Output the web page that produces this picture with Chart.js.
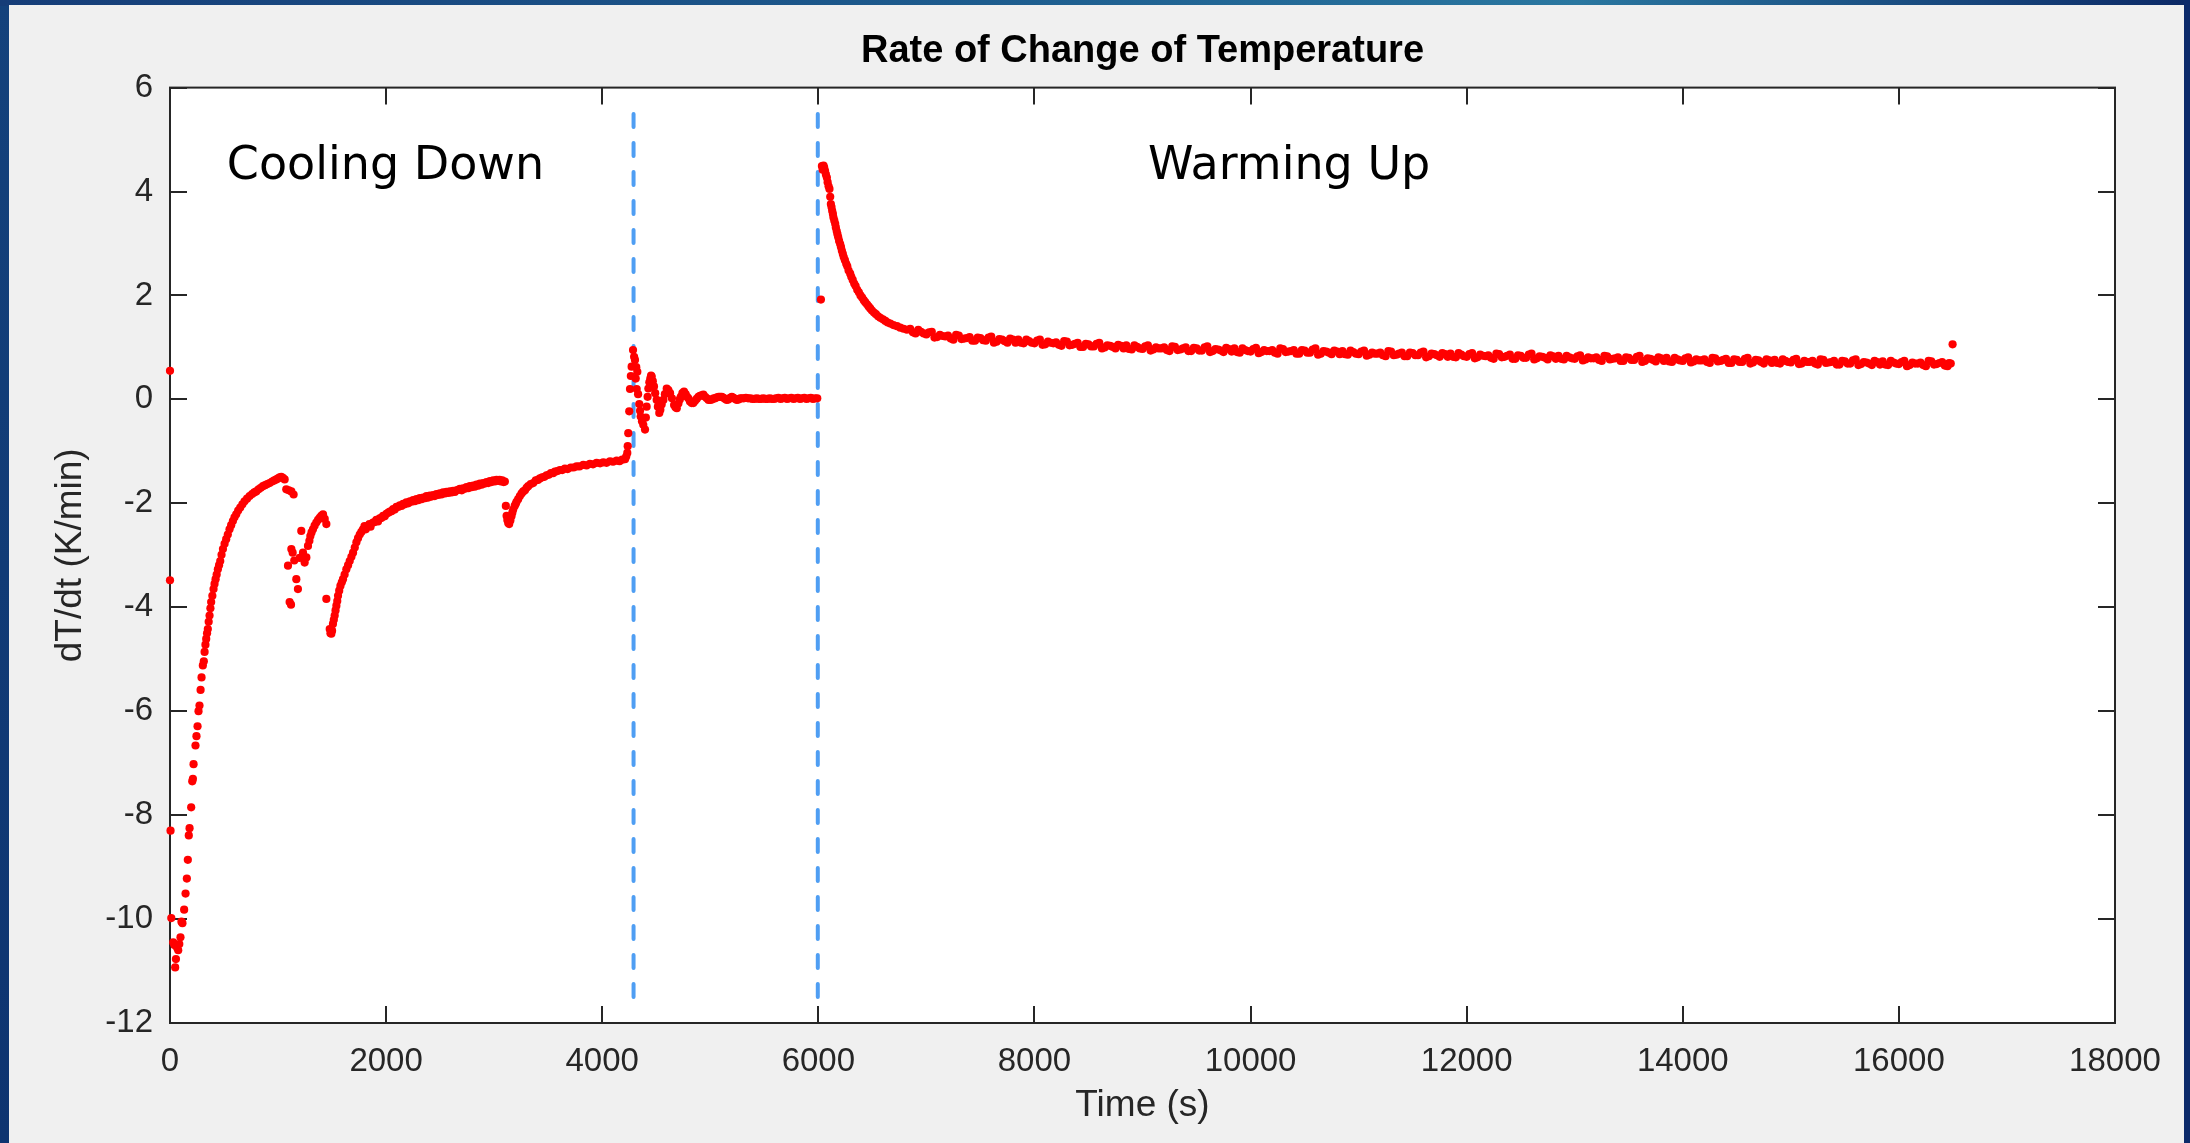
<!DOCTYPE html>
<html>
<head>
<meta charset="utf-8">
<title>Rate of Change of Temperature</title>
<script src="https://cdn.jsdelivr.net/npm/chart.js@4.4.1/dist/chart.umd.min.js"></script>
<style>
  html, body { margin: 0; padding: 0; overflow: hidden; background: #113a74; }
  #chart { display: block; }
</style>
</head>
<body>
<canvas id="chart" width="2190" height="1143"></canvas>
<script>
// first fall and recovery, 0 - 1150 s
const coolStartTime = [0, 0, 5, 12, 30, 40, 48, 55, 66, 76, 86, 97, 106, 115, 131, 144, 156, 165, 174, 181,
  196, 206, 212, 218, 236, 245, 255, 264, 273, 283, 292, 304, 313, 320, 328, 335, 343, 350, 358, 366,
  374, 381, 392, 403, 412, 422, 432, 443, 454, 465, 477, 490, 505, 520, 535, 551, 566, 582, 597, 613,
  631, 650, 670, 690, 713, 737, 760, 780, 798, 820, 840, 860, 880, 900, 922, 945, 965, 984, 1000, 1015,
  1030, 1045, 1061, 1076, 1100, 1123, 1144];
const coolStartRate = [0.55, -3.48, -8.30, -9.98, -10.45, -10.50, -10.93, -10.77, -10.55, -10.60, -10.48, -10.35, -10.05, -10.08, -9.82, -9.51, -9.22, -8.86, -8.39, -8.25,
  -7.85, -7.35, -7.30, -7.02, -6.66, -6.48, -6.29, -6.00, -5.89, -5.59, -5.35, -5.12, -5.04, -4.86, -4.72, -4.61, -4.50, -4.42, -4.28, -4.16,
  -4.02, -3.90, -3.78, -3.65, -3.55, -3.46, -3.37, -3.27, -3.19, -3.11, -2.99, -2.88, -2.78, -2.69, -2.60, -2.50, -2.42, -2.34, -2.27, -2.21,
  -2.14, -2.08, -2.02, -1.96, -1.91, -1.86, -1.82, -1.79, -1.77, -1.73, -1.70, -1.67, -1.65, -1.63, -1.61, -1.58, -1.56, -1.54, -1.52, -1.50,
  -1.49, -1.51, -1.54, -1.73, -1.75, -1.77, -1.83];

// scattered dip, 1090 - 1450 s
const dipTime = [1092, 1107, 1120, 1123, 1135, 1150, 1169, 1184, 1200, 1215, 1231, 1246, 1262, 1277, 1290, 1299, 1310, 1323, 1338, 1354,
  1370, 1385, 1400, 1416, 1432, 1447];
const dipRate = [-3.20, -3.90, -3.95, -2.88, -2.95, -3.10, -3.46, -3.65, -3.05, -2.53, -2.95, -3.14, -3.04, -2.82, -2.72, -2.63, -2.56, -2.50, -2.43, -2.37,
  -2.32, -2.28, -2.24, -2.21, -2.30, -2.40];

// second fall and recovery, 1450 - 3100 s
const secondTime = [1447, 1478, 1485, 1493, 1500, 1508, 1516, 1524, 1532, 1540, 1548, 1555, 1566, 1577, 1590, 1601, 1616, 1632, 1648, 1663,
  1679, 1694, 1710, 1725, 1740, 1756, 1771, 1786, 1800, 1812, 1833, 1845, 1856, 1879, 1895, 1910, 1925, 1941, 1956, 1972,
  1987, 2003, 2020, 2035, 2050, 2065, 2080, 2096, 2112, 2127, 2142, 2158, 2173, 2188, 2205, 2220, 2235, 2250, 2265, 2281,
  2297, 2312, 2328, 2343, 2360, 2374, 2390, 2405, 2420, 2436, 2450, 2466, 2482, 2497, 2512, 2528, 2545, 2559, 2575, 2590,
  2605, 2620, 2636, 2652, 2668, 2683, 2700, 2713, 2728, 2744, 2760, 2775, 2790, 2806, 2820, 2837, 2852, 2868, 2883, 2898,
  2914, 2929, 2945, 2960, 2975, 2991, 3006, 3022, 3036, 3050, 3063, 3075, 3088, 3099];
const secondRate = [-3.84, -4.42, -4.50, -4.51, -4.45, -4.32, -4.24, -4.16, -4.06, -3.97, -3.88, -3.78, -3.68, -3.59, -3.52, -3.46, -3.37, -3.27, -3.19, -3.11,
  -3.03, -2.95, -2.85, -2.75, -2.67, -2.60, -2.55, -2.50, -2.44, -2.50, -2.44, -2.40, -2.45, -2.37, -2.36, -2.32, -2.35, -2.29, -2.28, -2.24,
  -2.25, -2.20, -2.18, -2.16, -2.15, -2.11, -2.12, -2.07, -2.07, -2.04, -2.05, -2.01, -2.02, -1.98, -2.00, -1.96, -1.97, -1.94, -1.96, -1.92,
  -1.94, -1.90, -1.92, -1.89, -1.90, -1.86, -1.89, -1.85, -1.87, -1.84, -1.86, -1.82, -1.84, -1.81, -1.83, -1.79, -1.81, -1.78, -1.80, -1.77,
  -1.79, -1.76, -1.78, -1.75, -1.74, -1.72, -1.75, -1.71, -1.72, -1.69, -1.71, -1.67, -1.69, -1.66, -1.68, -1.64, -1.66, -1.62, -1.64, -1.61,
  -1.62, -1.59, -1.61, -1.57, -1.59, -1.56, -1.58, -1.55, -1.57, -1.55, -1.58, -1.56, -1.59, -1.58];

// third fall and slow approach, 3100 - 4290 s
const thirdTime = [3108, 3115, 3122, 3130, 3139, 3150, 3160, 3168, 3176, 3190, 3200, 3207, 3222, 3238, 3254, 3269, 3285, 3300, 3315, 3338,
  3361, 3385, 3405, 3423, 3445, 3465, 3485, 3505, 3525, 3545, 3562, 3585, 3608, 3630, 3655, 3680, 3709, 3735, 3763, 3790,
  3825, 3855, 3886, 3915, 3948, 3980, 4010, 4040, 4072, 4100, 4134, 4160, 4185, 4211, 4222, 4232, 4236, 4241, 4250, 4257,
  4265, 4272, 4285];
const thirdRate = [-2.05, -2.24, -2.32, -2.38, -2.40, -2.33, -2.25, -2.18, -2.12, -2.05, -2.01, -1.97, -1.92, -1.86, -1.81, -1.77, -1.75, -1.70, -1.67, -1.63,
  -1.61, -1.56, -1.55, -1.52, -1.50, -1.49, -1.46, -1.45, -1.42, -1.42, -1.39, -1.38, -1.36, -1.36, -1.33, -1.34, -1.31, -1.31, -1.29, -1.29,
  -1.26, -1.27, -1.24, -1.25, -1.22, -1.23, -1.21, -1.22, -1.19, -1.20, -1.18, -1.19, -1.16, -1.15, -1.10, -1.03, -0.90, -0.65, -0.23, 0.20,
  0.45, 0.63, 0.95];

// ringing and hold near zero, 4290 - 6000 s
const settleTime = [4295, 4303, 4310, 4315, 4319, 4325, 4332, 4343, 4350, 4356, 4368, 4380, 4396, 4404, 4411, 4420, 4427, 4436, 4445, 4452,
  4458, 4468, 4479, 4490, 4504, 4515, 4528, 4538, 4550, 4566, 4580, 4597, 4612, 4628, 4645, 4665, 4678, 4690, 4705, 4718,
  4727, 4742, 4757, 4772, 4785, 4797, 4812, 4828, 4843, 4858, 4874, 4890, 4905, 4920, 4936, 4952, 4968, 4984, 5000, 5016,
  5032, 5046, 5062, 5078, 5092, 5107, 5122, 5138, 5153, 5168, 5184, 5200, 5215, 5230, 5246, 5262, 5277, 5292, 5310, 5330,
  5350, 5370, 5390, 5410, 5430, 5450, 5470, 5490, 5510, 5530, 5550, 5570, 5590, 5610, 5630, 5650, 5670, 5690, 5710, 5730,
  5750, 5770, 5790, 5810, 5830, 5850, 5870, 5890, 5910, 5930, 5950, 5970, 5990];
const settleRate = [0.82, 0.76, 0.40, 0.62, 0.20, 0.53, 0.10, -0.09, -0.22, -0.33, -0.42, -0.49, -0.58, -0.35, -0.14, 0.05, 0.21, 0.33, 0.40, 0.46,
  0.44, 0.35, 0.25, 0.12, -0.01, -0.14, -0.26, -0.20, -0.10, -0.01, 0.10, 0.21, 0.18, 0.12, 0.02, -0.11, -0.15, -0.17, -0.08, 0.00,
  0.05, 0.12, 0.15, 0.10, 0.05, 0.02, -0.04, -0.07, -0.07, -0.03, 0.01, 0.05, 0.07, 0.08, 0.09, 0.05, 0.02, -0.01, -0.01, 0.00,
  0.02, 0.02, 0.04, 0.05, 0.05, 0.05, 0.03, 0.01, -0.01, 0.00, 0.03, 0.05, 0.03, 0.01, -0.01, 0.00, 0.02, 0.02, 0.02, 0.03,
  0.02, 0.02, 0.01, 0.01, 0.02, 0.01, 0.01, 0.02, 0.01, 0.01, 0.02, 0.01, 0.01, 0.02, 0.03, 0.01, 0.02, 0.03, 0.01, 0.02,
  0.03, 0.01, 0.02, 0.03, 0.01, 0.02, 0.03, 0.01, 0.02, 0.03, 0.01, 0.02, 0.02];

// warming, 6000 - 16500 s
const warmTime = [6024, 6033, 6040, 6048, 6054, 6062, 6070, 6079, 6086, 6095, 6103, 6110, 6116, 6122, 6128, 6135, 6140, 6148, 6156, 6162,
  6170, 6177, 6184, 6192, 6202, 6210, 6218, 6227, 6235, 6246, 6258, 6268, 6280, 6295, 6305, 6318, 6332, 6345, 6360, 6375,
  6390, 6405, 6420, 6434, 6450, 6465, 6480, 6496, 6515, 6533, 6553, 6573, 6598, 6620, 6642, 6666, 6695, 6728, 6758, 6789,
  6820, 6850, 6900, 6950, 7000, 7050, 7100, 7150, 7200, 7250, 7300, 7350, 7400, 7450, 7500, 7550, 7600, 7650, 7700, 7750,
  7800, 7850, 7900, 7950, 8000, 8050, 8100, 8150, 8200, 8250, 8300, 8350, 8400, 8450, 8500, 8550, 8600, 8650, 8700, 8750,
  8800, 8850, 8900, 8950, 9000, 9050, 9100, 9150, 9200, 9250, 9300, 9350, 9400, 9450, 9500, 9550, 9600, 9650, 9700, 9750,
  9800, 9850, 9900, 9950, 10000, 10050, 10100, 10150, 10200, 10250, 10300, 10350, 10400, 10450, 10500, 10550, 10600, 10650, 10700, 10750,
  10800, 10850, 10900, 10950, 11000, 11050, 11100, 11150, 11200, 11250, 11300, 11350, 11400, 11450, 11500, 11550, 11600, 11650, 11700, 11750,
  11800, 11850, 11900, 11950, 12000, 12050, 12100, 12150, 12200, 12250, 12300, 12350, 12400, 12450, 12500, 12550, 12600, 12650, 12700, 12750,
  12800, 12850, 12900, 12950, 13000, 13050, 13100, 13150, 13200, 13250, 13300, 13350, 13400, 13450, 13500, 13550, 13600, 13650, 13700, 13750,
  13800, 13850, 13900, 13950, 14000, 14050, 14100, 14150, 14200, 14250, 14300, 14350, 14400, 14450, 14500, 14550, 14600, 14650, 14700, 14750,
  14800, 14850, 14900, 14950, 15000, 15050, 15100, 15150, 15200, 15250, 15300, 15350, 15400, 15450, 15500, 15550, 15600, 15650, 15700, 15750,
  15800, 15850, 15900, 15950, 16000, 16050, 16100, 16150, 16200, 16250, 16300, 16350, 16400, 16450, 16480, 16497];
const warmRate = [1.92, 4.49, 4.42, 4.50, 4.46, 4.40, 4.33, 4.27, 4.18, 4.10, 4.05, 3.90, 3.76, 3.70, 3.63, 3.57, 3.50, 3.44, 3.38, 3.31,
  3.24, 3.18, 3.12, 3.05, 2.99, 2.93, 2.86, 2.80, 2.74, 2.68, 2.61, 2.56, 2.48, 2.42, 2.36, 2.30, 2.23, 2.18, 2.11, 2.06,
  2.00, 1.96, 1.91, 1.87, 1.83, 1.79, 1.75, 1.71, 1.67, 1.64, 1.60, 1.57, 1.54, 1.51, 1.48, 1.46, 1.43, 1.41, 1.38, 1.36,
  1.34, 1.36, 1.27, 1.30, 1.25, 1.30, 1.20, 1.22, 1.23, 1.15, 1.23, 1.17, 1.20, 1.13, 1.18, 1.13, 1.21, 1.11, 1.15, 1.09,
  1.15, 1.15, 1.08, 1.12, 1.08, 1.15, 1.06, 1.09, 1.10, 1.03, 1.11, 1.05, 1.09, 1.01, 1.06, 1.02, 1.09, 1.00, 1.03, 0.98,
  1.03, 1.04, 0.96, 1.01, 0.97, 1.04, 0.96, 0.98, 1.00, 0.93, 1.01, 0.96, 1.00, 0.93, 0.98, 0.94, 1.02, 0.93, 0.96, 0.91,
  0.97, 0.98, 0.90, 0.95, 0.92, 0.99, 0.91, 0.93, 0.95, 0.88, 0.97, 0.92, 0.95, 0.88, 0.94, 0.90, 0.98, 0.88, 0.92, 0.87,
  0.92, 0.93, 0.86, 0.91, 0.87, 0.94, 0.86, 0.88, 0.90, 0.83, 0.92, 0.86, 0.90, 0.83, 0.89, 0.85, 0.92, 0.83, 0.87, 0.82,
  0.87, 0.88, 0.81, 0.86, 0.82, 0.89, 0.81, 0.84, 0.85, 0.78, 0.87, 0.82, 0.86, 0.78, 0.84, 0.80, 0.88, 0.79, 0.82, 0.77,
  0.83, 0.84, 0.77, 0.81, 0.78, 0.85, 0.77, 0.79, 0.81, 0.74, 0.83, 0.78, 0.81, 0.74, 0.80, 0.76, 0.84, 0.74, 0.78, 0.73,
  0.79, 0.80, 0.72, 0.77, 0.74, 0.81, 0.73, 0.75, 0.77, 0.70, 0.79, 0.74, 0.78, 0.70, 0.76, 0.72, 0.80, 0.71, 0.75, 0.69,
  0.75, 0.76, 0.69, 0.74, 0.71, 0.78, 0.69, 0.72, 0.74, 0.67, 0.76, 0.71, 0.74, 0.67, 0.73, 0.69, 0.77, 0.68, 0.71, 0.66,
  0.72, 0.73, 0.66, 0.71, 0.68, 0.74, 0.66, 0.69, 0.71, 0.64, 0.73, 0.68, 0.72, 0.64, 0.69, 1.06];

// second row of samples inside the warming band (the band is thick in the picture)
const warmBandTime = [6875, 6925, 6975, 7025, 7075, 7125, 7175, 7225, 7275, 7325, 7375, 7425, 7475, 7525, 7575, 7625, 7675, 7725, 7775, 7825,
  7875, 7925, 7975, 8025, 8075, 8125, 8175, 8225, 8275, 8325, 8375, 8425, 8475, 8525, 8575, 8625, 8675, 8725, 8775, 8825,
  8875, 8925, 8975, 9025, 9075, 9125, 9175, 9225, 9275, 9325, 9375, 9425, 9475, 9525, 9575, 9625, 9675, 9725, 9775, 9825,
  9875, 9925, 9975, 10025, 10075, 10125, 10175, 10225, 10275, 10325, 10375, 10425, 10475, 10525, 10575, 10625, 10675, 10725, 10775, 10825,
  10875, 10925, 10975, 11025, 11075, 11125, 11175, 11225, 11275, 11325, 11375, 11425, 11475, 11525, 11575, 11625, 11675, 11725, 11775, 11825,
  11875, 11925, 11975, 12025, 12075, 12125, 12175, 12225, 12275, 12325, 12375, 12425, 12475, 12525, 12575, 12625, 12675, 12725, 12775, 12825,
  12875, 12925, 12975, 13025, 13075, 13125, 13175, 13225, 13275, 13325, 13375, 13425, 13475, 13525, 13575, 13625, 13675, 13725, 13775, 13825,
  13875, 13925, 13975, 14025, 14075, 14125, 14175, 14225, 14275, 14325, 14375, 14425, 14475, 14525, 14575, 14625, 14675, 14725, 14775, 14825,
  14875, 14925, 14975, 15025, 15075, 15125, 15175, 15225, 15275, 15325, 15375, 15425, 15475, 15525, 15575, 15625, 15675, 15725, 15775, 15825,
  15875, 15925, 15975, 16025, 16075, 16125, 16175, 16225, 16275, 16325, 16375, 16425, 16465];
const warmBandRate = [1.29, 1.34, 1.27, 1.29, 1.19, 1.24, 1.21, 1.17, 1.24, 1.16, 1.18, 1.13, 1.19, 1.14, 1.19, 1.09, 1.16, 1.12, 1.17, 1.09,
  1.09, 1.15, 1.09, 1.13, 1.05, 1.11, 1.08, 1.05, 1.12, 1.04, 1.07, 1.01, 1.07, 1.02, 1.07, 0.98, 1.04, 1.01, 1.05, 0.98,
  0.97, 1.04, 0.98, 1.02, 0.94, 1.00, 0.98, 0.95, 1.02, 0.95, 0.98, 0.93, 0.99, 0.94, 1.00, 0.91, 0.97, 0.94, 0.99, 0.92,
  0.91, 0.98, 0.93, 0.97, 0.89, 0.95, 0.93, 0.90, 0.98, 0.91, 0.93, 0.88, 0.95, 0.90, 0.96, 0.86, 0.93, 0.90, 0.94, 0.87,
  0.87, 0.94, 0.88, 0.92, 0.84, 0.90, 0.88, 0.85, 0.93, 0.85, 0.88, 0.83, 0.90, 0.85, 0.90, 0.81, 0.88, 0.85, 0.89, 0.82,
  0.82, 0.89, 0.83, 0.87, 0.79, 0.86, 0.83, 0.80, 0.88, 0.81, 0.84, 0.78, 0.85, 0.80, 0.86, 0.77, 0.83, 0.80, 0.85, 0.78,
  0.78, 0.84, 0.79, 0.83, 0.75, 0.81, 0.79, 0.76, 0.84, 0.77, 0.79, 0.74, 0.81, 0.76, 0.82, 0.72, 0.79, 0.76, 0.81, 0.74,
  0.73, 0.80, 0.75, 0.79, 0.71, 0.77, 0.75, 0.72, 0.80, 0.73, 0.76, 0.70, 0.77, 0.72, 0.78, 0.69, 0.76, 0.72, 0.77, 0.70,
  0.70, 0.77, 0.72, 0.76, 0.68, 0.74, 0.72, 0.69, 0.77, 0.70, 0.72, 0.67, 0.74, 0.69, 0.75, 0.66, 0.72, 0.69, 0.74, 0.67,
  0.67, 0.74, 0.69, 0.72, 0.64, 0.71, 0.69, 0.66, 0.74, 0.67, 0.70, 0.65, 0.70];

// vertical dashed markers at the two phase changes
const markerTime = [4290, 5995];
const markerRange = [-11.5, 5.5];

// text labels in the plot
const noteText = ['Cooling Down', 'Warming Up'];
const noteTime = [1994, 10357];
const noteRate = [4.24, 4.24];

const xTicks = [0, 2000, 4000, 6000, 8000, 10000, 12000, 14000, 16000, 18000];
const yTicks = [-12, -10, -8, -6, -4, -2, 0, 2, 4, 6];

const AXIS_COLOR = '#262626';
const TICK_LEN = 17;
const SANS = '"Liberation Sans", Arial, Helvetica, sans-serif';

function pairs(times, rates) {
    var out = [];
    times.forEach(function(t, i) {
        out.push({x: t, y: rates[i]});
    });
    return out;
}

var dots = [].concat(
    pairs(coolStartTime, coolStartRate),
    pairs(dipTime, dipRate),
    pairs(secondTime, secondRate),
    pairs(thirdTime, thirdRate),
    pairs(settleTime, settleRate),
    pairs(warmTime, warmRate),
    pairs(warmBandTime, warmBandRate)
);

var datasets = [{
    type: 'scatter',
    label: 'dT/dt',
    data: dots,
    pointRadius: 4.1,
    pointBackgroundColor: '#ff0000',
    pointBorderWidth: 0,
    clip: false
}];

markerTime.forEach(function(t, i) {
    datasets.push({
        type: 'line',
        label: 'marker ' + (i + 1),
        data: markerRange.map(function(v) { return {x: t, y: v}; }),
        borderColor: '#4f9ef3',
        borderWidth: 4,
        borderDash: [13, 16],
        borderCapStyle: 'round',
        pointRadius: 0,
        fill: false
    });
});

// window frame, grey panel, white axes box
const panelPlugin = {
    id: 'panel',
    beforeDraw: function(chart) {
        var ctx = chart.ctx, w = chart.width, h = chart.height, a = chart.chartArea;
        ctx.save();
        var side = ctx.createLinearGradient(0, 0, 0, h);
        side.addColorStop(0, '#14427c');
        side.addColorStop(1, '#0e3470');
        ctx.fillStyle = side;
        ctx.fillRect(0, 0, w, h);
        var top = ctx.createLinearGradient(0, 0, w, 0);
        top.addColorStop(0, '#163d78');
        top.addColorStop(0.45, '#1d5c8e');
        top.addColorStop(0.72, '#2a77a0');
        top.addColorStop(1, '#0c2966');
        ctx.fillStyle = top;
        ctx.fillRect(0, 0, w, 6);
        ctx.fillStyle = '#0c2a6a';
        ctx.fillRect(w - 6, 0, 6, h);
        ctx.fillStyle = '#f0f0f0';
        ctx.fillRect(9, 5, w - 15, h - 5);
        ctx.fillStyle = '#ffffff';
        ctx.fillRect(a.left, a.top, a.right - a.left, a.bottom - a.top);
        ctx.restore();
    },
    beforeDatasetsDraw: function(chart) {
        var ctx = chart.ctx, a = chart.chartArea;
        var xs = chart.scales.x, ys = chart.scales.y;
        ctx.save();
        ctx.strokeStyle = AXIS_COLOR;
        ctx.lineWidth = 2;
        ctx.strokeRect(a.left, a.top, a.right - a.left, a.bottom - a.top);
        ctx.beginPath();
        xs.ticks.forEach(function(t) {
            var px = Math.round(xs.getPixelForValue(t.value));
            ctx.moveTo(px, a.bottom);
            ctx.lineTo(px, a.bottom - TICK_LEN);
            ctx.moveTo(px, a.top);
            ctx.lineTo(px, a.top + TICK_LEN);
        });
        ys.ticks.forEach(function(t) {
            var py = Math.round(ys.getPixelForValue(t.value));
            ctx.moveTo(a.left, py);
            ctx.lineTo(a.left + TICK_LEN, py);
            ctx.moveTo(a.right, py);
            ctx.lineTo(a.right - TICK_LEN, py);
        });
        ctx.stroke();
        ctx.restore();
    },
    afterDatasetsDraw: function(chart) {
        var ctx = chart.ctx;
        var xs = chart.scales.x, ys = chart.scales.y;
        ctx.save();
        ctx.font = '46px "DejaVu Sans", sans-serif';
        ctx.fillStyle = '#000000';
        ctx.textAlign = 'center';
        ctx.textBaseline = 'alphabetic';
        noteText.forEach(function(txt, i) {
            ctx.fillText(txt, xs.getPixelForValue(noteTime[i]), ys.getPixelForValue(noteRate[i]));
        });
        ctx.restore();
    }
};

Chart.defaults.font.family = SANS;
Chart.defaults.color = AXIS_COLOR;

var ctx = document.getElementById('chart').getContext('2d');
new Chart(ctx, {
    type: 'scatter',
    data: { datasets: datasets },
    plugins: [panelPlugin],
    options: {
        responsive: false,
        animation: false,
        devicePixelRatio: 1,
        layout: { padding: { top: 5, left: 9, right: 75, bottom: 0 } },
        plugins: {
            legend: { display: false },
            tooltip: { enabled: false },
            title: {
                display: true,
                fullSize: false,
                text: 'Rate of Change of Temperature',
                color: '#000000',
                font: { family: SANS, size: 38, weight: 'bold' },
                padding: { top: 24, bottom: 13 }
            }
        },
        scales: {
            x: {
                type: 'linear',
                min: xTicks[0],
                max: xTicks[xTicks.length - 1],
                afterBuildTicks: function(scale) {
                    scale.ticks = xTicks.map(function(v) { return {value: v}; });
                },
                afterFit: function(scale) { scale.height = 120; },
                grid: { display: false, drawTicks: false },
                border: { display: false },
                ticks: {
                    autoSkip: false,
                    maxRotation: 0,
                    padding: 19,
                    color: AXIS_COLOR,
                    font: { size: 33 },
                    callback: function(v) { return String(v); }
                },
                title: {
                    display: true,
                    text: 'Time (s)',
                    color: AXIS_COLOR,
                    font: { size: 37 },
                    padding: { top: 0, bottom: 15 }
                }
            },
            y: {
                type: 'linear',
                min: yTicks[0],
                max: yTicks[yTicks.length - 1],
                afterBuildTicks: function(scale) {
                    scale.ticks = yTicks.map(function(v) { return {value: v}; });
                },
                afterFit: function(scale) { scale.width = 161; },
                grid: { display: false, drawTicks: false },
                border: { display: false },
                ticks: {
                    autoSkip: false,
                    padding: 17,
                    color: AXIS_COLOR,
                    font: { size: 33 },
                    callback: function(v) { return String(v); }
                },
                title: {
                    display: true,
                    text: 'dT/dt (K/min)',
                    color: AXIS_COLOR,
                    font: { size: 37 },
                    padding: { top: 40, bottom: 0 }
                }
            }
        }
    }
});
</script>
</body>
</html>
